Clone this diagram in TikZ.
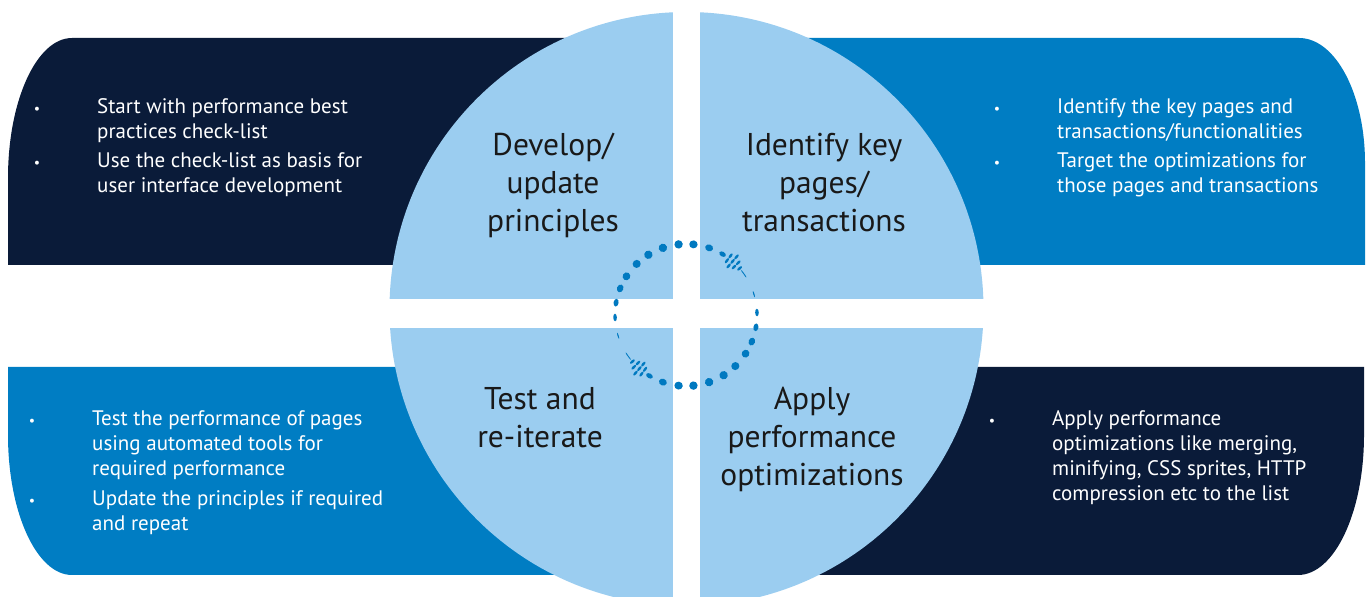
\documentclass[tikz,border=0pt]{standalone}
\usepackage{fontspec}
\setmainfont{PT Sans}
\definecolor{navy}{RGB}{10,27,57}
\definecolor{midblue}{RGB}{0,125,195}
\definecolor{pale}{RGB}{155,205,240}
\definecolor{dotblue}{RGB}{0,121,192}

\begin{document}
\begin{tikzpicture}[x=1pt,y=1pt]
        \tikzstyle{title} = [text=black!90,font=\fontsize{31.5}{38}\selectfont,align=center,anchor=base,inner sep=0pt]
        \tikzstyle{item} = [text=white,font=\fontsize{21}{25}\selectfont,align=left,anchor=base west,inner sep=0pt]
        \tikzstyle{bullet} = [text=white,font=\fontsize{14}{14}\selectfont,anchor=base,inner sep=0pt]
        \useasboundingbox (0,0) rectangle (1366,597);

        % the four bands behind the circle
        \fill[navy] (700,332) -- (8,332) -- (8,419) arc[start angle=180,end angle=90,x radius=64,y radius=140] -- (700,559) -- cycle;
        \fill[midblue] (680,332) -- (1365,332) -- (1365,434) arc[start angle=0,end angle=90,x radius=66,y radius=125] -- (680,559) -- cycle;
        \fill[midblue] (700,230) -- (8,230) -- (8,162) arc[start angle=180,end angle=270,x radius=64,y radius=140] -- (700,22) -- cycle;
        \fill[navy] (680,230) -- (1364,230) -- (1364,162) arc[start angle=0,end angle=-90,x radius=66,y radius=140] -- (680,22) -- cycle;

        % circle cut in four
        \fill[pale] (686.5,288) circle[radius=297];
        \fill[white] (673,0) rectangle (700,597);
        \fill[white] (380,269) rectangle (995,298);

        % dotted loop
        \begin{scope}[shift={(686,282)}]
          \foreach \o in {0,180} {
            \foreach \a/\w/\h in {197/0.6/3.2, 182/1.8/3.8, 170/2.5/3.9, 158/3.2/4, 147/3.8/4, 134/4/4.1,
              122/4.2/4.2, 109/4.2/4.2, 96/4.2/4.2, 84/4/4.2, 71/3.4/4, 59/2.4/3.6} {
              \fill[dotblue,rotate=\a+\o] (71,0) ellipse[x radius=\w,y radius=\h];
            }
            \foreach \a/\d in {53/-3, 53/3, 49/-6, 49/0, 49/6, 45/-3, 45/3, 41/0} {
              \fill[dotblue,rotate=\a+\o] (71+\d,0) ellipse[x radius=3,y radius=1.3];
            }
            \foreach \a in {37,34} {
              \fill[dotblue,rotate=\a+\o] (71,0) ellipse[x radius=0.5,y radius=2.6];
            }
          }
        \end{scope}

        % quadrant titles (placed at their last line)
        \node[title] (develop) at (553,365) {Develop/\\update\\principles};
        \node[title] (identify) at (824,365) {Identify key\\pages/\\transactions};
        \node[title] (test) at (540,149) {Test and\\re-iterate};
        \node[title] (apply) at (812,111) {Apply\\performance\\optimizations};

        % bullet lists: text at last line, bullet at first line
        \foreach \n/\x/\y/\b/\txt in {
          dev1/97/458/483/{Start with performance best\\practices check-list},
          dev2/97/404/429/{Use the check-list as basis for\\user interface development},
          key1/1057/458/483/{Identify the key pages and\\transactions/functionalities},
          key2/1057/404/429/{Target the optimizations for\\those pages and transactions},
          test1/92/121/171/{Test the performance of pages\\using automated tools for\\required performance},
          test2/92/66/91/{Update the principles if required\\and repeat},
          opt1/1052/96/171/{Apply performance\\optimizations like merging,\\minifying, CSS sprites, HTTP\\compression etc to the list}} {
          \node[item] (\n) at (\x,\y) {\txt};
          \node[bullet] (\n-b) at (\x-60,\b) {\textbullet};
        }
\end{tikzpicture}
\end{document}
